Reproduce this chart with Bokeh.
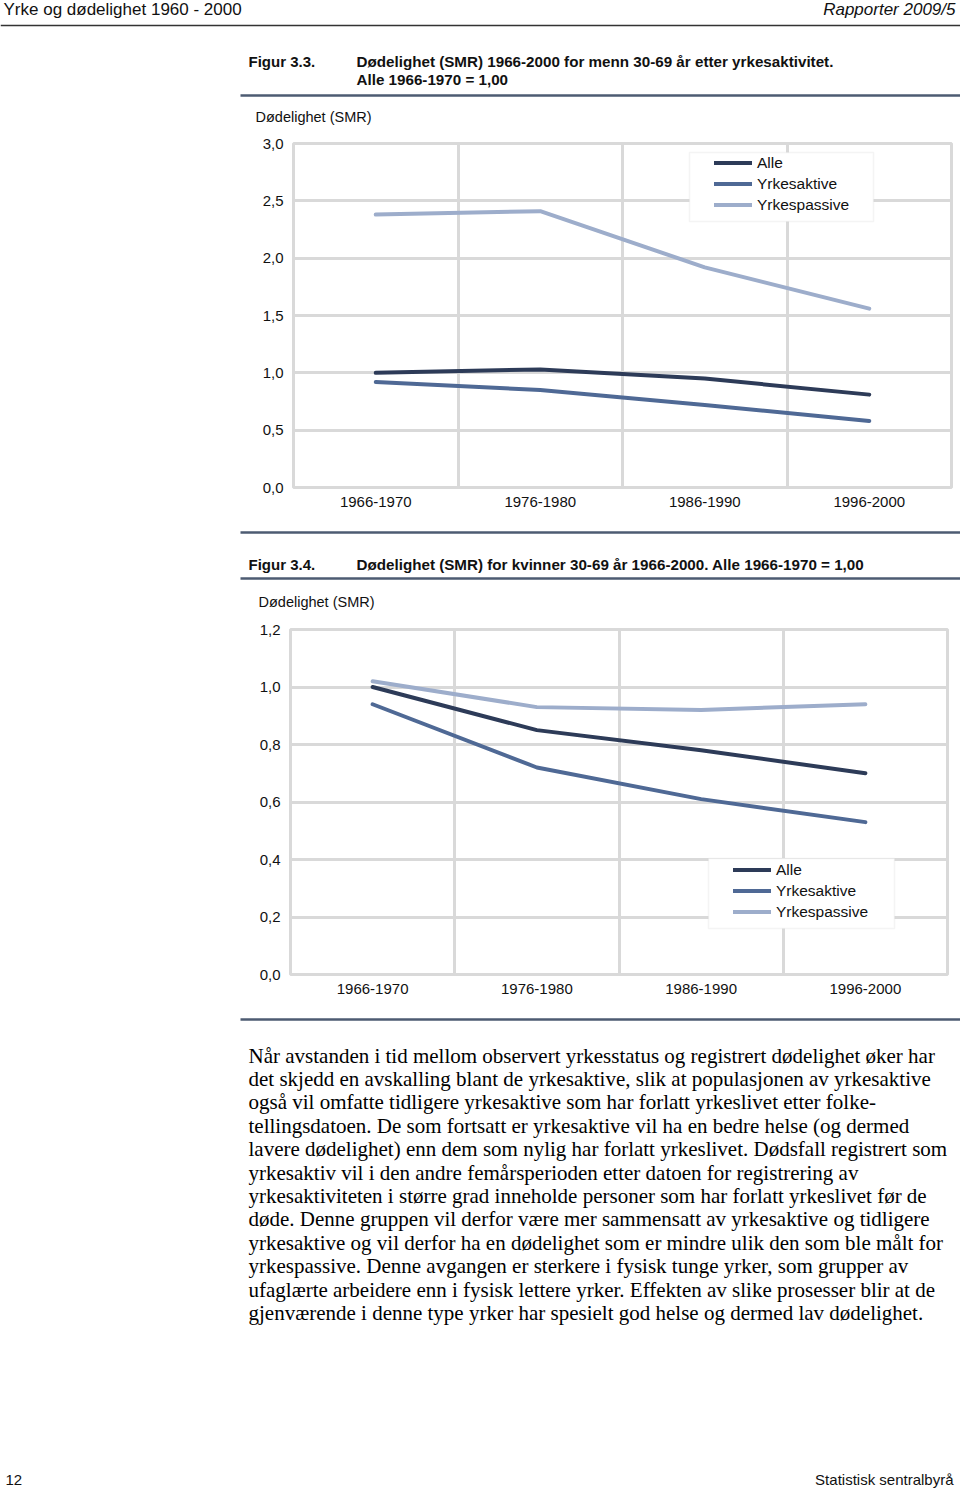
from bokeh.plotting import figure
from bokeh.models import (Range1d, FixedTicker, CustomJSTickFormatter, Legend,
                          LegendItem, BoxAnnotation)
from bokeh.core.properties import value
from bokeh.embed import file_html
from bokeh.resources import INLINE

# ---------------- data ----------------
categories = ["1966-1970", "1976-1980", "1986-1990", "1996-2000"]
series_names = ["Alle", "Yrkesaktive", "Yrkespassive"]

menn_alle = [1.00, 1.03, 0.95, 0.81]
menn_yrkesaktive = [0.92, 0.85, 0.72, 0.58]
menn_yrkespassive = [2.38, 2.41, 1.92, 1.56]

kvinner_alle = [1.00, 0.85, 0.78, 0.70]
kvinner_yrkesaktive = [0.94, 0.72, 0.61, 0.53]
kvinner_yrkespassive = [1.02, 0.93, 0.92, 0.94]

y_ticks_menn = [0.0, 0.5, 1.0, 1.5, 2.0, 2.5, 3.0]
y_ticks_kvinner = [0.0, 0.2, 0.4, 0.6, 0.8, 1.0, 1.2]

header_left = "Yrke og dødelighet 1960 - 2000"
header_right = "Rapporter 2009/5"
fig33_label = "Figur 3.3."
fig33_title = ["Dødelighet (SMR) 1966-2000 for menn 30-69 år etter yrkesaktivitet.",
               "Alle 1966-1970 = 1,00"]
fig34_label = "Figur 3.4."
fig34_title = "Dødelighet (SMR) for kvinner 30-69 år 1966-2000. Alle 1966-1970 = 1,00"
y_title = "Dødelighet (SMR)"
paragraph = [
    "Når avstanden i tid mellom observert yrkesstatus og registrert dødelighet øker har",
    "det skjedd en avskalling blant de yrkesaktive, slik at populasjonen av yrkesaktive",
    "også vil omfatte tidligere yrkesaktive som har forlatt yrkeslivet etter folke-",
    "tellingsdatoen. De som fortsatt er yrkesaktive vil ha en bedre helse (og dermed",
    "lavere dødelighet) enn dem som nylig har forlatt yrkeslivet. Dødsfall registrert som",
    "yrkesaktiv vil i den andre femårsperioden etter datoen for registrering av",
    "yrkesaktiviteten i større grad inneholde personer som har forlatt yrkeslivet før de",
    "døde. Denne gruppen vil derfor være mer sammensatt av yrkesaktive og tidligere",
    "yrkesaktive og vil derfor ha en dødelighet som er mindre ulik den som ble målt for",
    "yrkespassive. Denne avgangen er sterkere i fysisk tunge yrker, som grupper av",
    "ufaglærte arbeidere enn i fysisk lettere yrker. Effekten av slike prosesser blir at de",
    "gjenværende i denne type yrker har spesielt god helse og dermed lav dødelighet.",
]
footer_left = "12"
footer_right = "Statistisk sentralbyrå"

# ---------------- styles ----------------
W = 960
SANS = "Liberation Sans"
SERIF = "Liberation Serif"
colors = ["#2d3b58", "#4f6995", "#9dadcb"]
grid_col = "#d9d9d9"
rule_col = "#4d5b72"


def text_fig(h):
    f = figure(width=W, height=h, x_range=Range1d(0, W), y_range=Range1d(h, 0),
               x_axis_type=None, y_axis_type=None, output_backend="svg",
               toolbar_location=None, min_border=0)
    f.grid.visible = False
    f.outline_line_color = None
    return f


def txt(f, x, y, t, size="14px", style="normal", align="left", font=SANS, color="#111111"):
    f.text(x=[x], y=[y], text=[t], text_font=value(font), text_font_size=size,
           text_font_style=style, text_align=align, text_baseline="middle",
           text_color=color)


def chart(h, left, fw, fh, top, bottom, ymax, yticks, data, legend_px, legend_box):
    right = W - left - fw
    p = figure(width=W, height=h, frame_width=fw, frame_height=fh,
               x_range=Range1d(0, len(categories)), y_range=Range1d(0, ymax),
               output_backend="svg", toolbar_location=None,
               min_border_left=left, min_border_right=right,
               min_border_top=top, min_border_bottom=bottom)
    p.outline_line_color = grid_col
    p.outline_line_width = 3
    xs = [i + 0.5 for i in range(len(categories))]

    p.xaxis.ticker = FixedTicker(ticks=xs)
    p.xaxis.formatter = CustomJSTickFormatter(
        args=dict(labels=categories), code="return labels[Math.floor(tick)];")
    p.yaxis.ticker = FixedTicker(ticks=yticks)
    p.yaxis.formatter = CustomJSTickFormatter(
        code="return tick.toFixed(1).replace('.', ',');")
    for ax in (p.xaxis[0], p.yaxis[0]):
        ax.axis_line_color = None
        ax.major_tick_line_color = None
        ax.minor_tick_line_color = None
        ax.major_tick_out = 0
        ax.major_tick_in = 0
        ax.major_label_text_font = SANS
        ax.major_label_text_font_size = "15px"
        ax.major_label_text_color = "#111111"
    p.yaxis.major_label_standoff = 10
    p.xaxis.major_label_standoff = 9

    p.xgrid.ticker = FixedTicker(ticks=list(range(len(categories) + 1)))
    for g in (p.xgrid[0], p.ygrid[0]):
        g.grid_line_color = grid_col
        g.grid_line_width = 3

    bx0, bx1, by0, by1 = legend_box
    p.add_layout(BoxAnnotation(left=bx0, right=bx1, bottom=by0, top=by1,
                               fill_color="white", fill_alpha=1.0,
                               line_color=grid_col, line_width=1.5, level="underlay"))

    items = []
    for name, vals, c in zip(series_names, data, colors):
        r = p.line(xs, vals, line_color=c, line_width=4, line_cap="round", line_join="round")
        items.append(LegendItem(label=name, renderers=[r]))
    leg = Legend(items=items, location=legend_px, padding=0, margin=0, spacing=0,
                 glyph_width=38, glyph_height=21, label_height=21, label_standoff=5,
                 label_text_font=SANS, label_text_font_size="15.5px",
                 label_text_color="#111111", background_fill_alpha=0,
                 border_line_color=None)
    p.add_layout(leg)
    return p


# ---------------- section A (page y 0-130) ----------------
a = text_fig(130)
txt(a, 3, 9, header_left, size="17px")
txt(a, 955, 9, header_right, size="17px", style="italic", align="right")
a.segment(x0=[0], y0=[25], x1=[W], y1=[25], line_color="#333333", line_width=1.5)
txt(a, 248, 61, fig33_label, size="15px", style="bold")
txt(a, 356, 61, fig33_title[0], size="15.2px", style="bold")
txt(a, 356, 79, fig33_title[1], size="15.2px", style="bold")
a.segment(x0=[240], y0=[95], x1=[W], y1=[95], line_color=rule_col, line_width=2.5)
txt(a, 255, 116, y_title, size="14.5px")

# ---------------- chart 1 (page y 130-520), frame x 293-951, y 143-487 ----------------
c1 = chart(390, 293, 658, 344, 13, 33, 3.0, y_ticks_menn,
           [menn_alle, menn_yrkesaktive, menn_yrkespassive],
           legend_px=(421, 272),
           legend_box=((689 - 293) / 164.5, (873 - 293) / 164.5,
                       (487 - 221) / 114.67, (487 - 152) / 114.67))

# ---------------- section B (page y 520-612) ----------------
b = text_fig(92)
b.segment(x0=[240], y0=[12], x1=[W], y1=[12], line_color=rule_col, line_width=2.5)
txt(b, 248, 44, fig34_label, size="15px", style="bold")
txt(b, 356, 44, fig34_title, size="15.2px", style="bold")
b.segment(x0=[240], y0=[58], x1=[W], y1=[58], line_color=rule_col, line_width=2.5)
txt(b, 258, 81, y_title, size="14.5px")

# ---------------- chart 2 (page y 612-1005), frame x 290-947, y 629-974 ----------------
c2 = chart(393, 290, 657, 345, 17, 31, 1.2, y_ticks_kvinner,
           [kvinner_alle, kvinner_yrkesaktive, kvinner_yrkespassive],
           legend_px=(443, 52),
           legend_box=((708 - 290) / 164.25, (894 - 290) / 164.25,
                       (974 - 928) / 287.5, (974 - 858) / 287.5))

# ---------------- section C (page y 1005-1489) ----------------
c = text_fig(484)
c.segment(x0=[240], y0=[14], x1=[W], y1=[14], line_color=rule_col, line_width=2.5)
for i, line in enumerate(paragraph):
    txt(c, 248, 50 + i * 23.4, line, size="21px", font=SERIF, color="#000000")
txt(c, 5, 474, footer_left, size="15px")
txt(c, 953, 474, footer_right, size="15px", align="right")

open("out.html", "w").write(file_html([a, c1, b, c2, c], INLINE))
